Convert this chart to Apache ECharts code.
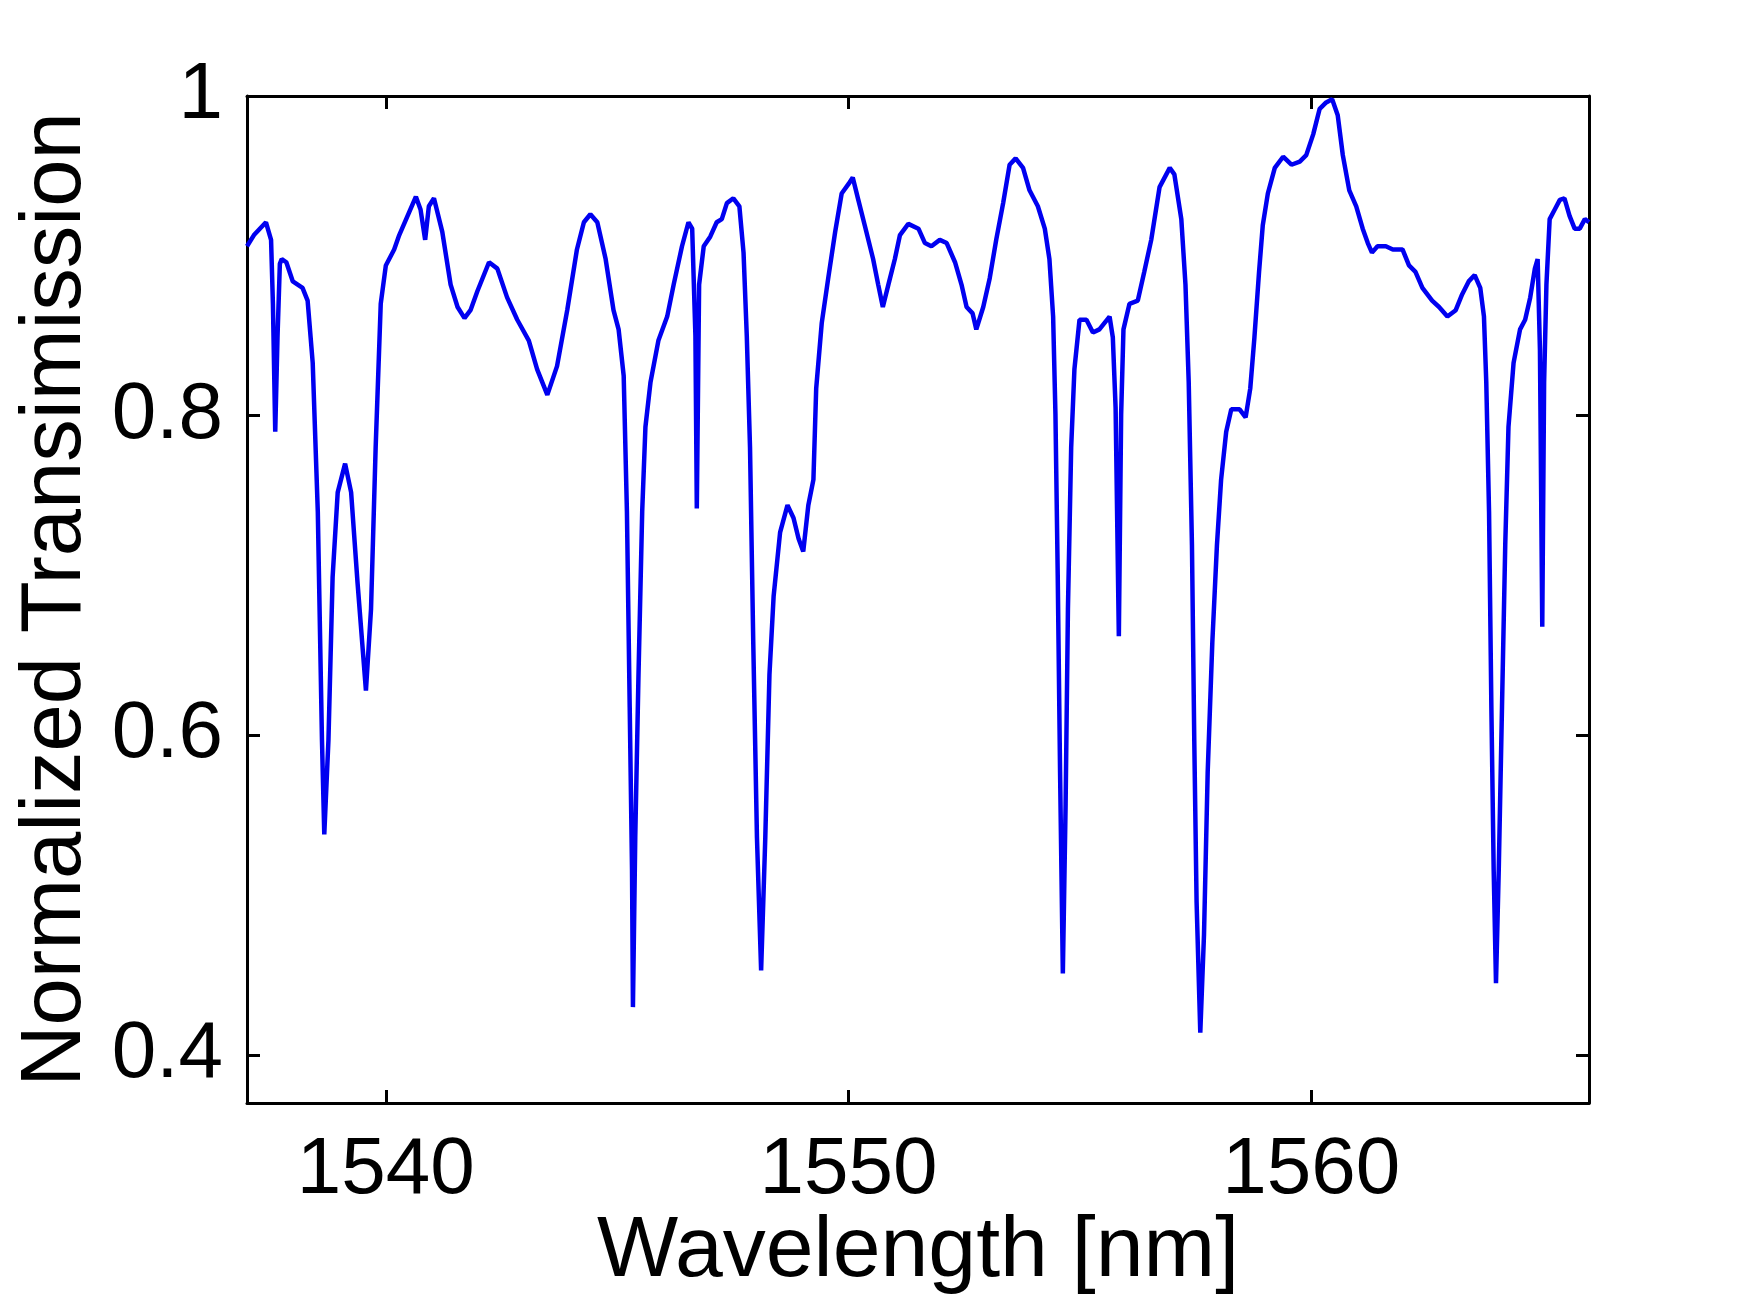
<!DOCTYPE html>
<html>
<head>
<meta charset="utf-8">
<script src="https://cdn.jsdelivr.net/npm/echarts@6/dist/echarts.min.js"></script>
<style>
  html, body { margin: 0; padding: 0; background: #fff; }
  #chart { width: 1757px; height: 1298px; }
</style>
</head>
<body>
<div id="chart"></div>
<script>
// wavelength [nm] and normalized transmission
const wavelength = [
  1537.00, 1537.15, 1537.41, 1537.52, 1537.56, 1537.61, 1537.66, 1537.71, 1537.75, 1537.85,
  1537.99, 1538.20, 1538.31, 1538.42, 1538.53, 1538.62, 1538.67, 1538.76, 1538.85, 1538.96,
  1539.12, 1539.25, 1539.39, 1539.57, 1539.68, 1539.78, 1539.89, 1540.00, 1540.18, 1540.29,
  1540.47, 1540.65, 1540.75, 1540.85, 1540.93, 1541.04, 1541.22, 1541.40, 1541.55, 1541.70,
  1541.83, 1541.98, 1542.23, 1542.41, 1542.62, 1542.84, 1543.09, 1543.27, 1543.49, 1543.70,
  1543.92, 1544.13, 1544.28, 1544.42, 1544.57, 1544.75, 1544.92, 1545.03, 1545.14, 1545.21,
  1545.27, 1545.32, 1545.34, 1545.39, 1545.46, 1545.54, 1545.61, 1545.72, 1545.89, 1546.08,
  1546.22, 1546.40, 1546.54, 1546.62, 1546.69, 1546.72, 1546.77, 1546.87, 1547.01, 1547.15,
  1547.26, 1547.37, 1547.51, 1547.64, 1547.73, 1547.80, 1547.87, 1547.94, 1548.02, 1548.11,
  1548.20, 1548.29, 1548.38, 1548.52, 1548.68, 1548.81, 1548.92, 1549.02, 1549.13, 1549.24,
  1549.30, 1549.42, 1549.56, 1549.71, 1549.85, 1550.00, 1550.09, 1550.21, 1550.35, 1550.53,
  1550.64, 1550.74, 1550.86, 1551.00, 1551.11, 1551.29, 1551.51, 1551.65, 1551.79, 1551.97,
  1552.12, 1552.30, 1552.44, 1552.55, 1552.68, 1552.76, 1552.91, 1553.05, 1553.19, 1553.34,
  1553.48, 1553.61, 1553.77, 1553.91, 1554.09, 1554.24, 1554.34, 1554.42, 1554.47, 1554.52,
  1554.57, 1554.63, 1554.69, 1554.74, 1554.81, 1554.88, 1554.99, 1555.14, 1555.28, 1555.42,
  1555.64, 1555.71, 1555.77, 1555.84, 1555.89, 1555.94, 1556.07, 1556.25, 1556.39, 1556.54,
  1556.72, 1556.94, 1557.04, 1557.19, 1557.28, 1557.35, 1557.42, 1557.47, 1557.52, 1557.60,
  1557.68, 1557.76, 1557.86, 1557.96, 1558.05, 1558.16, 1558.27, 1558.45, 1558.58, 1558.68,
  1558.77, 1558.87, 1558.95, 1559.06, 1559.21, 1559.39, 1559.57, 1559.75, 1559.89, 1560.04,
  1560.18, 1560.32, 1560.45, 1560.57, 1560.68, 1560.82, 1560.97, 1561.11, 1561.22, 1561.31,
  1561.43, 1561.61, 1561.76, 1561.97, 1562.11, 1562.25, 1562.40, 1562.61, 1562.76, 1562.94,
  1563.12, 1563.26, 1563.40, 1563.53, 1563.65, 1563.73, 1563.78, 1563.84, 1563.89, 1563.94,
  1563.99, 1564.05, 1564.12, 1564.19, 1564.26, 1564.37, 1564.51, 1564.62, 1564.73, 1564.83,
  1564.89, 1564.94, 1564.99, 1565.03, 1565.08, 1565.15, 1565.26, 1565.37, 1565.47, 1565.58,
  1565.69, 1565.80, 1565.91, 1566.00
];
const transmission = [
  0.906, 0.913, 0.921, 0.910, 0.870, 0.790, 0.850, 0.895, 0.898, 0.896,
  0.884, 0.880, 0.872, 0.833, 0.740, 0.597, 0.538, 0.597, 0.699, 0.752,
  0.770, 0.752, 0.695, 0.628, 0.679, 0.780, 0.870, 0.894, 0.904, 0.913,
  0.925, 0.937, 0.929, 0.910, 0.931, 0.936, 0.915, 0.882, 0.868, 0.861,
  0.866, 0.878, 0.896, 0.892, 0.874, 0.860, 0.847, 0.829, 0.813, 0.831,
  0.866, 0.904, 0.921, 0.926, 0.921, 0.898, 0.866, 0.854, 0.825, 0.740,
  0.618, 0.516, 0.430, 0.536, 0.638, 0.740, 0.793, 0.821, 0.847, 0.862,
  0.882, 0.906, 0.921, 0.917, 0.850, 0.742, 0.882, 0.906, 0.912, 0.921,
  0.923, 0.933, 0.936, 0.931, 0.902, 0.850, 0.780, 0.658, 0.536, 0.453,
  0.536, 0.638, 0.687, 0.727, 0.744, 0.736, 0.723, 0.715, 0.744, 0.760,
  0.817, 0.858, 0.886, 0.915, 0.939, 0.945, 0.949, 0.935, 0.919, 0.898,
  0.882, 0.868, 0.882, 0.898, 0.913, 0.920, 0.917, 0.908, 0.906, 0.910,
  0.908, 0.896, 0.882, 0.868, 0.864, 0.854, 0.868, 0.886, 0.910, 0.933,
  0.957, 0.961, 0.955, 0.941, 0.931, 0.917, 0.898, 0.862, 0.801, 0.699,
  0.577, 0.451, 0.557, 0.679, 0.780, 0.829, 0.860, 0.860, 0.852, 0.854,
  0.862, 0.849, 0.805, 0.662, 0.801, 0.854, 0.870, 0.872, 0.890, 0.910,
  0.943, 0.955, 0.951, 0.923, 0.882, 0.821, 0.719, 0.597, 0.496, 0.414,
  0.475, 0.577, 0.658, 0.719, 0.760, 0.790, 0.804, 0.804, 0.799, 0.817,
  0.849, 0.890, 0.919, 0.939, 0.955, 0.962, 0.957, 0.959, 0.963, 0.976,
  0.992, 0.996, 0.998, 0.988, 0.963, 0.941, 0.931, 0.917, 0.908, 0.902,
  0.906, 0.906, 0.904, 0.904, 0.894, 0.890, 0.880, 0.872, 0.868, 0.862,
  0.866, 0.876, 0.884, 0.888, 0.880, 0.862, 0.821, 0.740, 0.618, 0.516,
  0.445, 0.516, 0.618, 0.719, 0.793, 0.833, 0.854, 0.860, 0.874, 0.892,
  0.898, 0.841, 0.668, 0.821, 0.882, 0.923, 0.929, 0.935, 0.936, 0.925,
  0.917, 0.917, 0.923, 0.921
];
const xTicks = [1540, 1550, 1560];
const yTicks = [0.4, 0.6, 0.8, 1];

const FONT = "Liberation Sans, Arial, sans-serif";
const frame = { show: true, onZero: false, lineStyle: { color: "#000", width: 3 } };
const tick = { inside: true, length: 13, lineStyle: { color: "#000", width: 3 } };

const chart = echarts.init(document.getElementById("chart"), null, { renderer: "canvas" });
chart.setOption({
  animation: false,
  backgroundColor: "#fff",
  grid: { left: 247, right: 168, top: 96, bottom: 195, outerBoundsMode: "none", containLabel: false },
  xAxis: [
    {
      type: "value", min: 1537, max: 1566, position: "bottom",
      name: "Wavelength [nm]", nameLocation: "middle", nameGap: 106, nameMoveOverlap: false,
      nameTextStyle: { fontFamily: FONT, fontSize: 86, color: "#000" },
      axisLine: frame,
      axisTick: { ...tick, customValues: xTicks },
      axisLabel: {
        customValues: xTicks, fontFamily: FONT, fontSize: 80, color: "#000", margin: 28,
        formatter: v => String(v)
      },
      splitLine: { show: false }
    },
    {
      type: "value", min: 1537, max: 1566, position: "top",
      axisLine: frame,
      axisTick: { ...tick, customValues: xTicks },
      axisLabel: { show: false },
      splitLine: { show: false }
    }
  ],
  yAxis: [
    {
      type: "value", min: 0.37, max: 1, position: "left",
      name: "Normalized Transimission", nameLocation: "middle", nameGap: 148, nameMoveOverlap: false,
      nameTextStyle: { fontFamily: FONT, fontSize: 85, color: "#000" },
      axisLine: frame,
      axisTick: { ...tick, customValues: yTicks },
      axisLabel: {
        customValues: yTicks, fontFamily: FONT, fontSize: 80, color: "#000", margin: 24,
        formatter: v => (v === 1 ? "1" : v.toFixed(1))
      },
      splitLine: { show: false }
    },
    {
      type: "value", min: 0.37, max: 1, position: "right",
      axisLine: frame,
      axisTick: { ...tick, customValues: yTicks },
      axisLabel: { show: false },
      splitLine: { show: false }
    }
  ],
  series: [
    {
      type: "line",
      xAxisIndex: 0,
      yAxisIndex: 0,
      data: wavelength.map((w, i) => [w, transmission[i]]),
      showSymbol: false,
      smooth: false,
      lineStyle: { color: "#0000f0", width: 4.5 },
      z: 1
    }
  ]
});
</script>
</body>
</html>
